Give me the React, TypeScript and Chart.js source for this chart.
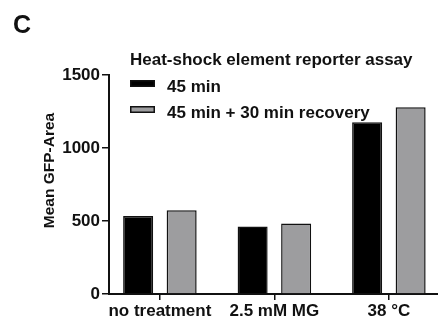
import React, { useEffect, useRef } from "react";
import { Chart, registerables } from "chart.js";

Chart.register(...registerables);

const categories = ["no treatment", "2.5 mM MG", "38 °C"];
const seriesLabels = ["45 min", "45 min + 30 min recovery"];
const series45 = [535, 462, 1176];
const series45Recovery = [574, 483, 1279];
const yTicks = [0, 500, 1000, 1500];
const legendTitle = "Heat-shock element reporter assay";
const yAxisTitle = "Mean GFP-Area";
const panelLetter = "C";

const FONT = "'Liberation Sans', Arial, Helvetica, sans-serif";
const INK = "#111";
const GRAY = "#9d9d9f";

const overlayPlugin = {
  id: "overlay",
  afterDraw(chart: any) {
    const ctx = chart.ctx;
    ctx.save();
    ctx.fillStyle = INK;
    ctx.textAlign = "left";
    ctx.textBaseline = "alphabetic";
    ctx.font = `bold 25px ${FONT}`;
    ctx.fillText(panelLetter, 13, 33);

    ctx.font = `bold 17px ${FONT}`;
    ctx.fillText(legendTitle, 130, 65);

    const ds = chart.data.datasets;
    const rows = [80, 106];
    ds.forEach((d: any, i: number) => {
      const top = rows[i];
      ctx.fillStyle = d.backgroundColor;
      ctx.fillRect(130, top, 25, 7);
      ctx.strokeStyle = INK;
      ctx.lineWidth = 1.5;
      ctx.strokeRect(130.75, top + 0.75, 23.5, 5.5);
      ctx.fillStyle = INK;
      ctx.font = `bold 17px ${FONT}`;
      ctx.fillText(d.label, 167, top + 12);
    });

    ctx.translate(49.5, 170.5);
    ctx.rotate(-Math.PI / 2);
    ctx.textAlign = "center";
    ctx.textBaseline = "middle";
    ctx.font = `bold 15.5px ${FONT}`;
    ctx.fillText(yAxisTitle, 0, 0);
    ctx.restore();
  },
};

export default function App() {
  const ref = useRef<HTMLCanvasElement | null>(null);

  useEffect(() => {
    if (!ref.current) return;
    const chart = new Chart(ref.current, {
      type: "bar",
      data: {
        datasets: [
          {
            label: seriesLabels[0],
            data: series45.map((v, i) => ({ x: i, y: v })),
            backgroundColor: "#000",
            borderColor: INK,
            borderWidth: 1.5,
          },
          {
            label: seriesLabels[1],
            data: series45Recovery.map((v, i) => ({ x: i, y: v })),
            backgroundColor: GRAY,
            borderColor: INK,
            borderWidth: 1.5,
          },
        ],
      },
      options: {
        animation: false,
        responsive: false,
        devicePixelRatio: 1,
        categoryPercentage: 0.76,
        barPercentage: 0.69,
        layout: { padding: { left: 0, top: 75, right: 0, bottom: 0 } },
        plugins: {
          legend: { display: false },
          title: { display: false },
          tooltip: { enabled: false },
        },
        scales: {
          x: {
            type: "linear",
            offset: false,
            min: -0.4445,
            max: 2.429,
            afterBuildTicks: (scale: any) => {
              scale.ticks = categories.map((_, i) => ({ value: i }));
            },
            afterFit: (scale: any) => {
              scale.height = 25;
            },
            ticks: {
              autoSkip: false,
              maxRotation: 0,
              padding: 1,
              color: INK,
              font: { family: FONT, size: 17, weight: "bold" },
              callback: (v: any) => categories[v] ?? "",
            },
            grid: {
              display: true,
              offset: false,
              drawOnChartArea: false,
              drawTicks: true,
              tickLength: 6,
              color: INK,
              lineWidth: 1.5,
            },
            border: { display: true, color: INK, width: 2 },
          },
          y: {
            min: yTicks[0],
            max: yTicks[yTicks.length - 1],
            afterBuildTicks: (scale: any) => {
              scale.ticks = yTicks.map((v) => ({ value: v }));
            },
            afterFit: (scale: any) => {
              scale.width = 109;
            },
            ticks: {
              padding: 2,
              color: INK,
              font: { family: FONT, size: 17, weight: "bold" },
              callback: (v: any) => String(v),
            },
            grid: {
              display: true,
              drawOnChartArea: false,
              drawTicks: true,
              tickLength: 7,
              color: INK,
              lineWidth: 1.5,
            },
            border: { display: true, color: INK, width: 2 },
          },
        },
      },
      plugins: [overlayPlugin],
    } as any);
    return () => chart.destroy();
  }, []);

  return (
    <div style={{ position: "absolute", left: 0, top: 0, width: 438, height: 319, background: "#fff" }}>
      <canvas ref={ref} width={438} height={319} />
    </div>
  );
}
